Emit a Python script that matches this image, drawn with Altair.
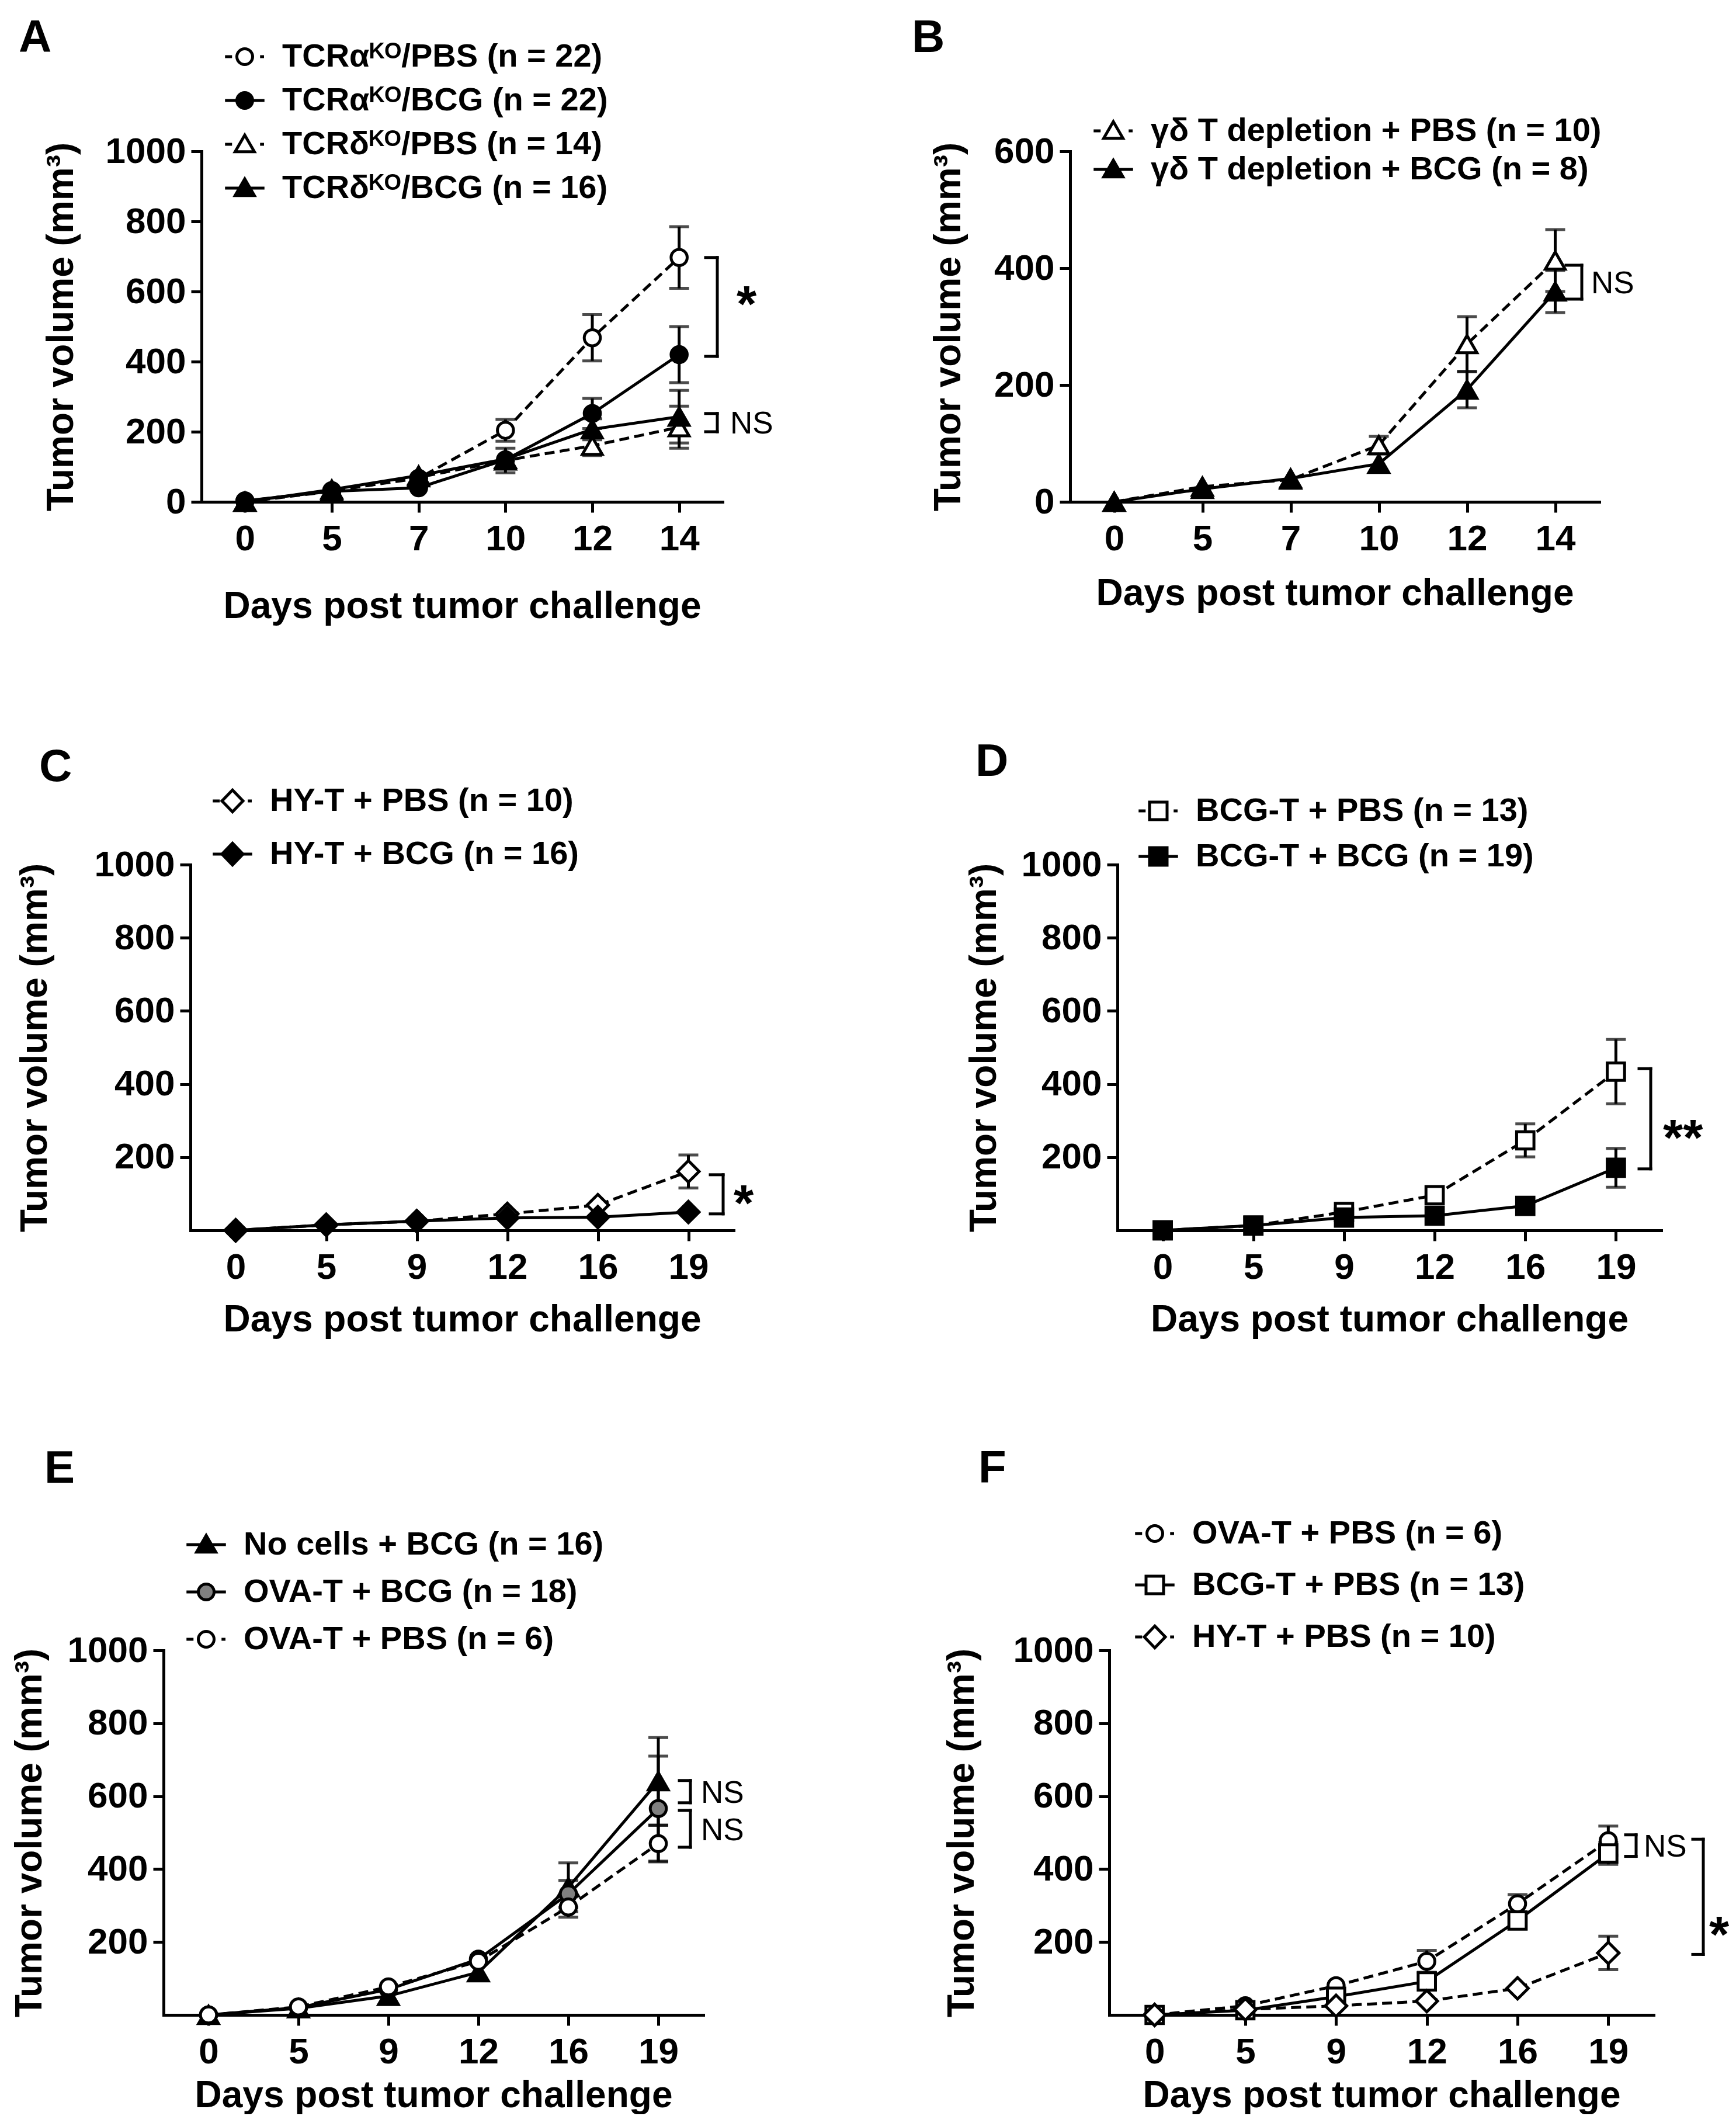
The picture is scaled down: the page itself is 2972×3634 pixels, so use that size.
import json
import altair as alt
import pandas as pd

FONT = "Liberation Sans, Arial, Helvetica, DejaVu Sans, sans-serif"
LETTER_FONT = "Liberation Sans, Arial, sans-serif"

# ---------------- data ----------------
# Panel A
A_days = [0, 5, 7, 10, 12, 14]
A_names = ["TCRαᴷᴼ/PBS (n = 22)", "TCRαᴷᴼ/BCG (n = 22)", "TCRδᴷᴼ/PBS (n = 14)", "TCRδᴷᴼ/BCG (n = 16)"]
A_alpha_pbs = [2, 32, 67, 204, 468, 697]
A_alpha_pbs_err = [2, 5, 8, 31, 66, 88]
A_alpha_bcg = [3, 30, 40, 120, 252, 420]
A_alpha_bcg_err = [2, 5, 6, 15, 43, 80]
A_delta_pbs = [0, 30, 70, 118, 160, 213]
A_delta_pbs_err = [0, 5, 8, 35, 28, 60]
A_delta_bcg = [0, 35, 75, 122, 207, 243]
A_delta_bcg_err = [0, 5, 8, 20, 30, 75]
A_br_top = [697, 252]
A_br_bottom = [415, 200]
A_br_text = ["*", "NS"]
A_br_text_y = [595, 226]

# Panel B
B_days = [0, 5, 7, 10, 12, 14]
B_names = ["γδ T depletion + PBS (n = 10)", "γδ T depletion + BCG (n = 8)"]
B_pbs = [0, 26, 38, 97, 270, 413]
B_pbs_err = [0, 4, 4, 15, 47, 53]
B_bcg = [0, 22, 40, 65, 192, 360]
B_bcg_err = [0, 3, 4, 5, 31, 36]
B_br_top = [405]
B_br_bottom = [347]
B_br_text = ["NS"]
B_br_text_y = [376]

# Panel C
C_days = [0, 5, 9, 12, 16, 19]
C_names = ["HY-T + PBS (n = 10)", "HY-T + BCG (n = 16)"]
C_pbs = [0, 15, 25, 45, 69, 161]
C_pbs_err = [0, 2, 3, 5, 8, 45]
C_bcg = [0, 15, 25, 34, 36, 50]
C_bcg_err = [0, 2, 3, 4, 5, 6]
C_br_top = [152]
C_br_bottom = [45]
C_br_text = ["*"]
C_br_text_y = [104]

# Panel D
D_days = [0, 5, 9, 12, 16, 19]
D_names = ["BCG-T + PBS (n = 13)", "BCG-T + BCG (n = 19)"]
D_pbs = [0, 13, 50, 96, 246, 434]
D_pbs_err = [0, 2, 5, 10, 45, 88]
D_bcg = [0, 13, 35, 40, 67, 171]
D_bcg_err = [0, 2, 4, 5, 8, 53]
D_br_top = [442]
D_br_bottom = [168]
D_br_text = ["**"]
D_br_text_y = [283]

# Panel E
E_days = [0, 5, 9, 12, 16, 19]
E_names = ["No cells + BCG (n = 16)", "OVA-T + BCG (n = 18)", "OVA-T + PBS (n = 6)"]
E_nocells_bcg = [0, 18, 52, 117, 350, 641]
E_nocells_bcg_err = [0, 3, 5, 8, 67, 120]
E_ova_bcg = [0, 20, 70, 153, 332, 566]
E_ova_bcg_err = [0, 3, 6, 20, 37, 144]
E_ova_pbs = [0, 22, 77, 147, 296, 470]
E_ova_pbs_err = [0, 3, 5, 12, 28, 50]
E_br_top = [643, 561]
E_br_bottom = [582, 460]
E_br_text = ["NS", "NS"]
E_br_text_y = [612, 510]

# Panel F
F_days = [0, 5, 9, 12, 16, 19]
F_names = ["OVA-T + PBS (n = 6)", "BCG-T + PBS (n = 13)", "HY-T + PBS (n = 10)"]
F_ova_pbs = [0, 25, 80, 147, 305, 478]
F_ova_pbs_err = [0, 3, 6, 30, 25, 40]
F_bcgt_pbs = [0, 13, 50, 92, 259, 443]
F_bcgt_pbs_err = [0, 2, 5, 8, 20, 30]
F_hyt_pbs = [0, 15, 25, 38, 73, 170]
F_hyt_pbs_err = [0, 2, 3, 4, 6, 46]
F_br_top = [494, 482]
F_br_bottom = [435, 166]
F_br_text = ["NS", "*"]
F_br_text_y = [464, 250]

# ---------------- styles ----------------
POINT_SIZE = {"circle": 760, "triangle-up": 1150, "square": 880, "diamond": 1350}
LW = 5
DASH = [17, 9]


def legend_path(shape, dashed):
    mk = {
        "circle": ("M-0.9,0 A0.9,0.9 0 1,1 0.9,0 A0.9,0.9 0 1,1 -0.9,0 Z", 0.9),
        "triangle-up": ("M0,-1.05 L1.1,0.85 L-1.1,0.85 Z", 0.6),
        "square": ("M-1,-1 L1,-1 L1,1 L-1,1 Z", 1.0),
        "diamond": ("M0,-1.25 L1.2,0 L0,1.25 L-1.2,0 Z", 1.2),
    }
    m, hw = mk[shape]
    if dashed:
        seg = "M-2.25,0 L-1.45,0 M1.75,0 L2.2,0"
    else:
        seg = f"M-2.25,0 L{-hw},0 M{hw},0 L2.25,0"
    return seg + " " + m


def make_panel(days, names, vals, errs, styles, ymax, yticks, g, br, br_style, letter):
    w, h = g["w"], g["h"]
    rows = []
    for n, v, e in zip(names, vals, errs):
        for d, vi, ei in zip(days, v, e):
            rows.append({"series": n, "day": d, "val": vi, "lo": max(vi - ei, 0), "hi": vi + ei, "err": ei})
    df = pd.DataFrame(rows)

    xax = alt.Axis(
        title="Days post tumor challenge", labelAngle=0, labelFont=FONT, labelFontSize=62,
        labelFontWeight="bold", labelColor="black", labelPadding=15, titleFont=FONT,
        titleFontSize=64, titleFontWeight="bold", titleColor="black", titleY=g["xty"],
        titleBaseline="alphabetic", tickSize=18, tickWidth=5, tickColor="black",
        domainWidth=5, domainColor="black", domainCap="square", grid=False,
    )
    yax = alt.Axis(
        title="Tumor volume (mm³)", values=yticks, format="d", labelFont=FONT, labelFontSize=62,
        labelFontWeight="bold", labelColor="black", labelPadding=9, labelFlush=False,
        titleFont=FONT, titleFontSize=64, titleFontWeight="bold", titleColor="black",
        titleX=g["ytx"], titleY=h / 2, titleLimit=2000, titleBaseline="alphabetic",
        tickSize=18, tickWidth=5, tickColor="black", domainWidth=5, domainColor="black",
        domainCap="square", grid=False,
    )
    xs = alt.Scale(type="point", padding=0.5)
    ys = alt.Scale(domain=[0, ymax], nice=False, zero=True)
    X = alt.X("day:O", scale=xs, axis=xax, sort=days)

    def Y(f):
        return alt.Y(f + ":Q", scale=ys, axis=yax)

    base = alt.Chart(df)
    frame = alt.Chart(pd.DataFrame({"f": [0]})).mark_rect(opacity=0).encode(
        x=alt.value(-g["L"]), x2=alt.value(w + g["R"]),
        y=alt.value(-g["T"]), y2=alt.value(h + g["B"]),
    )
    lines, ebars, caps, points = [], [], [], []
    pix = h / ymax
    for n, (shape, fill, dashed) in zip(names, styles):
        sel = base.transform_filter(alt.datum.series == n)
        kw = {"strokeDash": DASH} if dashed else {}
        lines.append(sel.mark_line(color="black", strokeWidth=LW, **kw).encode(x=X, y=Y("val")))
        vis = sel.transform_filter(f"datum.err * {pix} > 14")
        ebars.append(vis.mark_rule(color="black", strokeWidth=LW).encode(x=X, y=Y("lo"), y2=alt.Y2("hi")))
        caps.append(vis.mark_tick(color="black", thickness=LW, size=34, orient="horizontal").encode(x=X, y=Y("hi")))
        caps.append(vis.mark_tick(color="black", thickness=LW, size=34, orient="horizontal").encode(x=X, y=Y("lo")))
        points.append(sel.mark_point(shape=shape, size=POINT_SIZE[shape], filled=True, fill=fill,
                                     stroke="black", strokeWidth=LW, opacity=1).encode(x=X, y=Y("val")))

    # significance brackets
    top, bottom, text, text_y = br
    bdf = pd.DataFrame({"y1": top, "y2": bottom, "lab": text, "ly": text_y})
    blayers = []
    for i, st in enumerate(br_style):
        sub = bdf.iloc[[i]]
        x0 = w + st["dx"]
        bc = alt.Chart(sub)
        blayers.append(bc.mark_rule(color="black", strokeWidth=LW, strokeCap="square").encode(
            x=alt.value(x0), y=Y("y1"), y2=alt.Y2("y2")))
        blayers.append(bc.mark_rule(color="black", strokeWidth=LW, strokeCap="square").encode(
            x=alt.value(x0 - st["arm"]), x2=alt.value(x0), y=Y("y1")))
        blayers.append(bc.mark_rule(color="black", strokeWidth=LW, strokeCap="square").encode(
            x=alt.value(x0 - st["arm"]), x2=alt.value(x0), y=Y("y2")))
        star = "*" in text[i]
        blayers.append(bc.mark_text(
            align="left", baseline="middle", font=FONT,
            fontSize=88 if star else 53, fontWeight="bold" if star else "normal",
            dy=22 if star else 3, color="black",
        ).encode(x=alt.value(w + st["tdx"]), y=Y("ly"), text="lab:N"))

    # legend (native Vega legend, custom line+marker symbols)
    paths = [legend_path(s, d) for (s, f, d) in styles]
    fills = [f for (s, f, d) in styles]
    fill_expr = f"{json.dumps(fills)}[indexof({json.dumps(names, ensure_ascii=False)}, datum.value)]"
    leg = alt.Legend(
        orient="none", legendX=g["legx"], legendY=g["legy"], direction="vertical",
        labelFont=FONT, labelFontSize=56, labelFontWeight="bold", labelColor="black",
        labelLimit=3000, labelOffset=36, rowPadding=g["rowpad"], padding=0,
        symbolSize=900, symbolStrokeWidth=LW, symbolOpacity=1, symbolOffset=0,
    )
    legend_layer = alt.Chart(pd.DataFrame({"series": names})).transform_filter("false").mark_point(
        stroke="black", strokeWidth=LW, opacity=1, fill={"expr": fill_expr}
    ).encode(shape=alt.Shape("series:N", scale=alt.Scale(domain=names, range=paths), legend=leg, title=None))

    letter_layer = alt.Chart(pd.DataFrame({"t": [letter]})).mark_text(
        font=LETTER_FONT, fontSize=78, fontWeight="bold", align="left", baseline="alphabetic", color="black"
    ).encode(text="t:N", x=alt.value(g["lx"]), y=alt.value(g["ly"]))

    return alt.layer(frame, *lines, *ebars, *caps, *points, *blayers, legend_layer, letter_layer).properties(
        width=w, height=h)


# ---------------- layout (pixels) ----------------
GA = dict(w=892, h=600, L=336, R=263, T=251, B=371, ytx=-221, xty=198, lx=-313, ly=-170, legx=46, legy=-190, rowpad=19)
GB = dict(w=906, h=600, L=332, R=224, T=251, B=371, ytx=-189, xty=176, lx=-271, ly=-170, legx=46, legy=-63, rowpad=10)
GC = dict(w=930, h=626, L=317, R=244, T=250, B=334, ytx=-247, xty=172, lx=-259, ly=-143, legx=44, legy=-137, rowpad=33)
GD = dict(w=931, h=626, L=413, R=118, T=250, B=334, ytx=-209, xty=172, lx=-243, ly=-152, legx=42, legy=-120, rowpad=22)
GE = dict(w=924, h=624, L=271, R=296, T=385, B=169, ytx=-210, xty=157, lx=-204, ly=-287, legx=45, legy=-209, rowpad=25)
GF = dict(w=932, h=624, L=399, R=131, T=385, B=169, ytx=-233, xty=157, lx=-224, ly=-287, legx=50, legy=-228, rowpad=32)

OPEN, FILLED, GRAY = "white", "black", "#808080"
T1000 = [0, 200, 400, 600, 800, 1000]
T1000b = [200, 400, 600, 800, 1000]

pA = make_panel(A_days, A_names,
                [A_alpha_pbs, A_alpha_bcg, A_delta_pbs, A_delta_bcg],
                [A_alpha_pbs_err, A_alpha_bcg_err, A_delta_pbs_err, A_delta_bcg_err],
                [("circle", OPEN, True), ("circle", FILLED, False), ("triangle-up", OPEN, True), ("triangle-up", FILLED, False)],
                1000, T1000, GA, (A_br_top, A_br_bottom, A_br_text, A_br_text_y),
                [dict(dx=-9, arm=20, tdx=24), dict(dx=-9, arm=20, tdx=13)], "A")
pB = make_panel(B_days, B_names, [B_pbs, B_bcg], [B_pbs_err, B_bcg_err],
                [("triangle-up", OPEN, True), ("triangle-up", FILLED, False)],
                600, [0, 200, 400, 600], GB, (B_br_top, B_br_bottom, B_br_text, B_br_text_y),
                [dict(dx=-30, arm=27, tdx=-14)], "B")
pC = make_panel(C_days, C_names, [C_pbs, C_bcg], [C_pbs_err, C_bcg_err],
                [("diamond", OPEN, True), ("diamond", FILLED, False)],
                1000, T1000b, GC, (C_br_top, C_br_bottom, C_br_text, C_br_text_y),
                [dict(dx=-18, arm=22, tdx=0)], "C")
pD = make_panel(D_days, D_names, [D_pbs, D_bcg], [D_pbs_err, D_bcg_err],
                [("square", OPEN, True), ("square", FILLED, False)],
                1000, T1000b, GD, (D_br_top, D_br_bottom, D_br_text, D_br_text_y),
                [dict(dx=-18, arm=20, tdx=3)], "D")
pE = make_panel(E_days, E_names, [E_nocells_bcg, E_ova_bcg, E_ova_pbs],
                [E_nocells_bcg_err, E_ova_bcg_err, E_ova_pbs_err],
                [("triangle-up", FILLED, False), ("circle", GRAY, False), ("circle", OPEN, True)],
                1000, T1000b, GE, (E_br_top, E_br_bottom, E_br_text, E_br_text_y),
                [dict(dx=-22, arm=19, tdx=-4), dict(dx=-22, arm=19, tdx=-4)], "E")
pF = make_panel(F_days, F_names, [F_ova_pbs, F_bcgt_pbs, F_hyt_pbs],
                [F_ova_pbs_err, F_bcgt_pbs_err, F_hyt_pbs_err],
                [("circle", OPEN, True), ("square", OPEN, False), ("diamond", OPEN, True)],
                1000, T1000b, GF, (F_br_top, F_br_bottom, F_br_text, F_br_text_y),
                [dict(dx=-30, arm=18, tdx=-17), dict(dx=85, arm=18, tdx=95)], "F")


def spacer():
    return alt.Chart(pd.DataFrame({"s": [0]})).mark_rect(opacity=0).encode(
        x=alt.value(0), x2=alt.value(1), y=alt.value(0), y2=alt.value(1)
    ).properties(width=1, height=1)


def row(a, b):
    return alt.hconcat(spacer(), a, b, spacing=0).resolve_scale(shape="independent").resolve_legend(
        shape="independent")


chart = alt.vconcat(
    row(pA, pB), row(pC, pD), row(pE, pF), spacing=0,
).resolve_scale(shape="independent").resolve_legend(shape="independent").properties(
    padding=0, background="white").configure_view(strokeWidth=0)

chart.save("out.html", embed_options={"renderer": "svg", "actions": False})
